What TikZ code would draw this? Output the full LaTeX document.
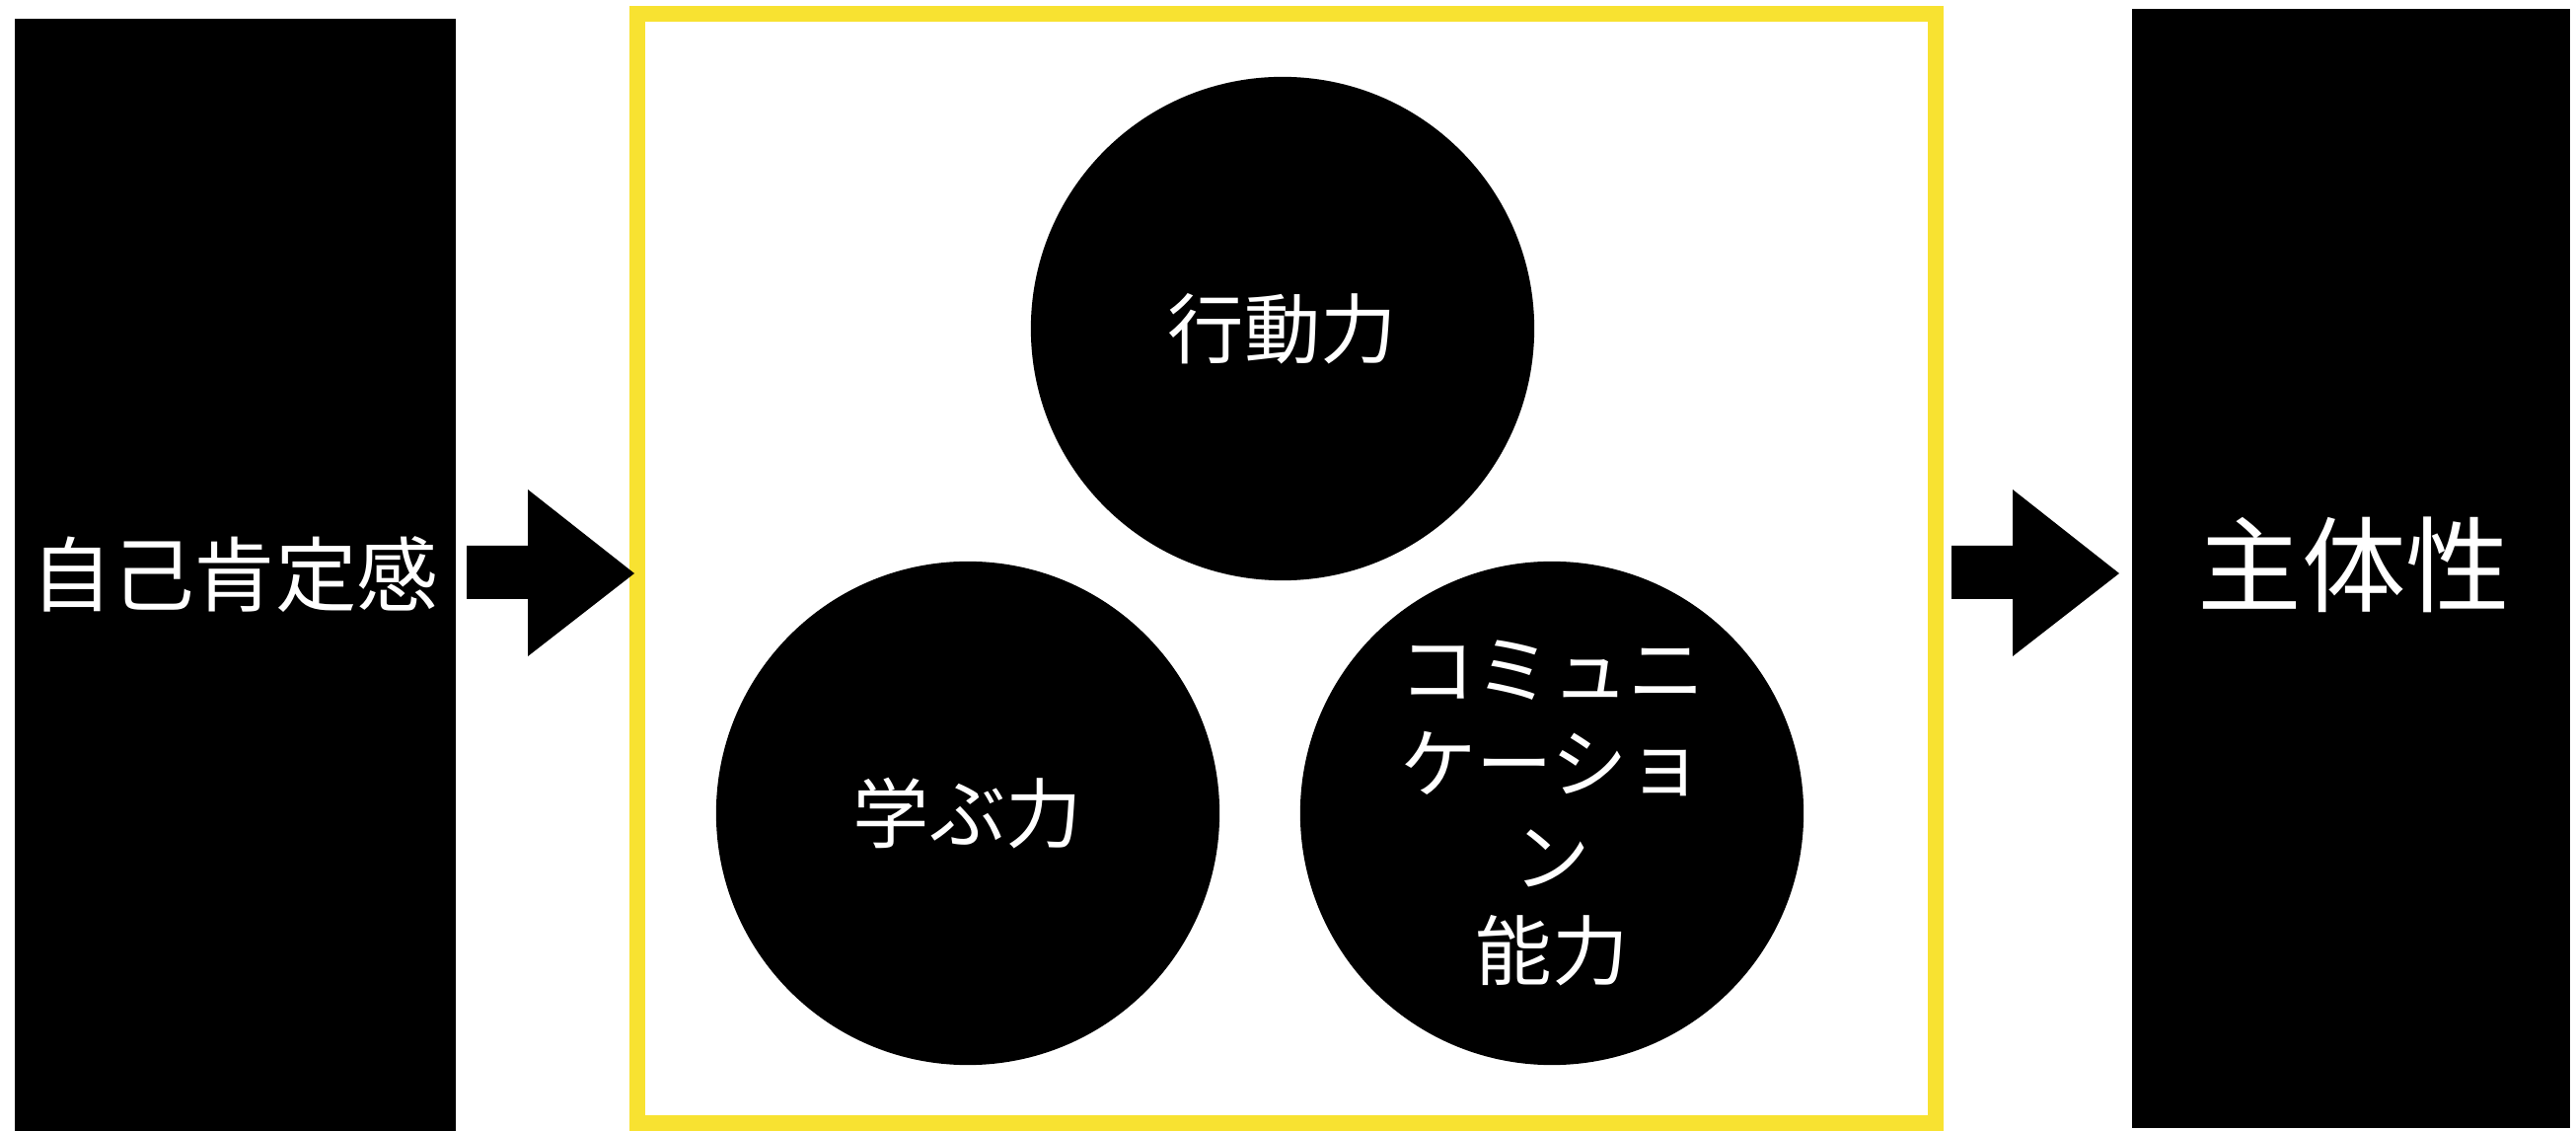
\documentclass[tikz,border=0pt]{standalone}
\usepackage{fontspec}
\setmainfont{Noto Sans CJK JP}
\definecolor{frameyellow}{HTML}{F8E231}
\tikzset{
  px/.style={x=0.01cm,y=-0.01cm},
  blackbox/.style={fill=black,draw=none},
  bigarrow/.style={fill=black,draw=none},
  ball/.style={circle,fill=black,draw=none,minimum size=5.1cm,inner sep=0pt},
  lbl/.style={text=white,font=\fontsize{22pt}{27pt}\selectfont,align=center},
}
\begin{document}
\begin{tikzpicture}[px]
\useasboundingbox (0,0) rectangle (2611,1146);
% left box
\fill[blackbox] (15,19) rectangle (462,1146);
\node[lbl,font=\fontsize{23.5pt}{30pt}\selectfont] (self) at (238,582) {自己肯定感};
% right box
\fill[blackbox] (2161,9) rectangle (2605,1143);
\node[lbl,font=\fontsize{30pt}{36pt}\selectfont] (shutai) at (2386,572) {主体性};
% yellow frame
\draw[frameyellow,line width=0.16cm] (646,14) rectangle (1962,1138);
% arrows
\fill[bigarrow] (473,553) -- (535,553) -- (535,496) -- (643,581) -- (535,665) -- (535,607) -- (473,607) -- cycle;
\fill[bigarrow] (1978,553) -- (2040,553) -- (2040,496) -- (2148,581) -- (2040,665) -- (2040,607) -- (1978,607) -- cycle;
% circles
\node[ball] (act) at (1300,333) {};
\node[lbl] at (act) {行動力};
\node[ball] (learn) at (981,824) {};
\node[lbl] at (learn) {学ぶ力};
\node[ball] (comm) at (1573,824) {};
\node[lbl] at (comm) {コミュニ\\ケーショ\\ン\\能力};
\end{tikzpicture}
\end{document}
